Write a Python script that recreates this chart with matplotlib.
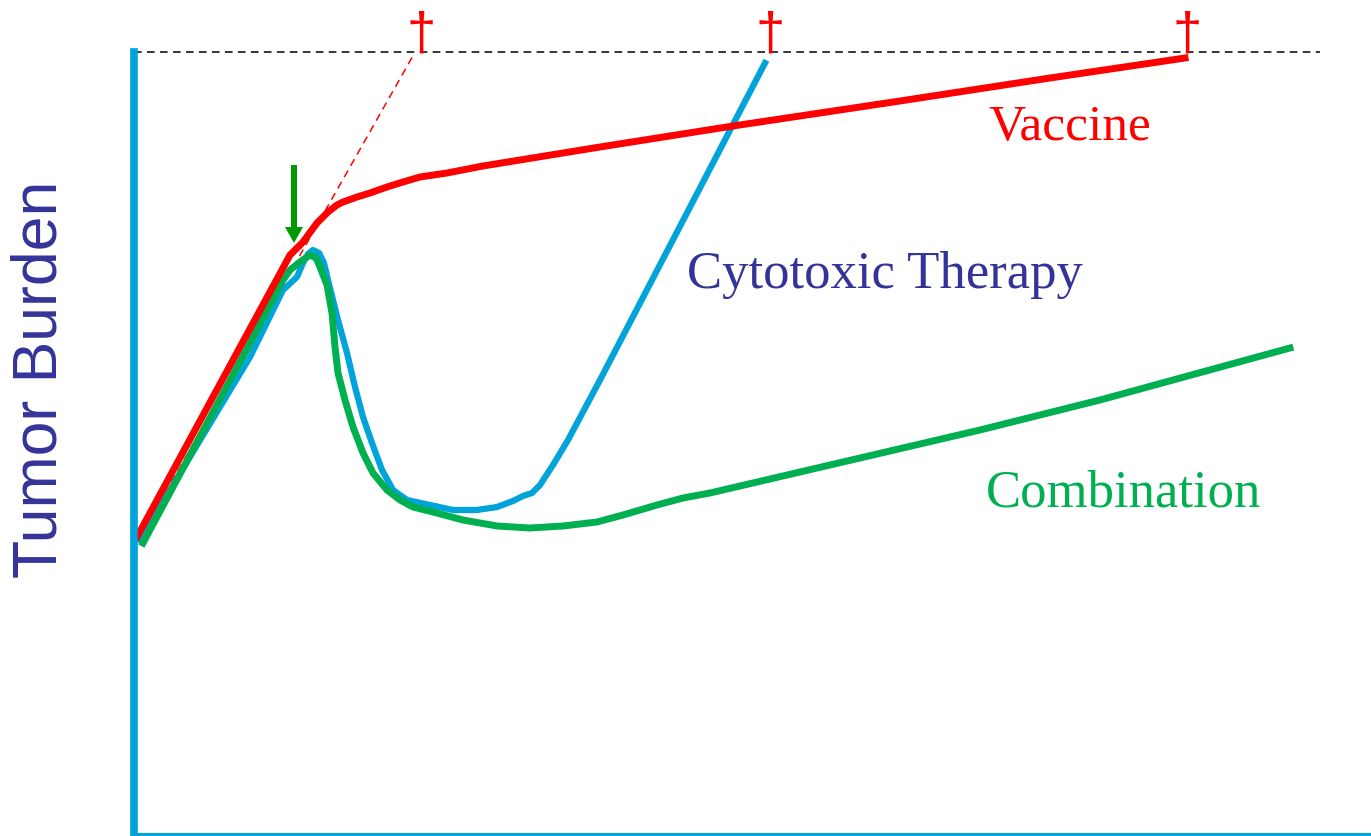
import matplotlib.pyplot as plt

# time axis (arbitrary units) and tumor burden readings
vac_t = [3, 156, 169, 183, 194, 203, 209, 223, 236, 253, 269, 286, 313, 349,
         466, 599, 766, 916, 1051]
vac_b = [297, 579, 592, 611, 622, 629, 632, 637, 641, 647, 652, 657, 661, 668,
         687, 708, 733, 756, 776]

cyto_t = [6, 116, 149, 163, 169, 174, 179, 185, 190, 194, 204, 213, 221, 229,
          238, 248, 259, 273, 296, 319, 343, 363, 379, 389, 398, 406, 419, 434,
          466, 631]
cyto_b = [294, 477, 544, 557, 571, 580, 584, 581, 571, 554, 514, 481, 447, 417,
          391, 364, 344, 334, 329, 324, 324, 327, 333, 338, 341, 349, 369, 394,
          454, 771]

comb_t = [9, 116, 149, 156, 166, 176, 182, 186, 193, 198, 201, 204, 211, 219,
          229, 239, 253, 266, 279, 299, 329, 363, 396, 429, 463, 489, 523, 549,
          576, 666, 846, 966, 1156]
comb_b = [291, 491, 554, 564, 572, 579, 576, 567, 549, 521, 487, 461, 434, 407,
          381, 361, 344, 334, 327, 322, 314, 308, 306, 308, 312, 319, 329, 336,
          341, 362, 404, 434, 486]

# untreated growth (dashed) and the lethal burden level
untreated_t = [-1, 280]
untreated_b = [284, 780]
death_level = 782
death_t = [287, 636, 1053]
treat_t = 160

red = '#FF0000'
blue = '#00A3DA'
green = '#00B050'
navy = '#333399'

fig = plt.figure(figsize=(13.71, 8.36), dpi=100)
ax = fig.add_axes([134/1371, 2/836, 1237/1371, 834/836])
ax.set_xlim(0, 1237)
ax.set_ylim(0, 834)

ax.plot([0, 1186], [death_level, death_level], color='black', lw=1.1,
        dashes=(5, 3.5))
ax.plot(untreated_t, untreated_b, color=red, lw=1.1, dashes=(5, 3.5))

ax.plot(cyto_t, cyto_b, color=blue, lw=4.5, solid_joinstyle='round')
ax.plot(comb_t, comb_b, color=green, lw=5, solid_joinstyle='round')
ax.plot(vac_t, vac_b, color=red, lw=5, solid_joinstyle='round')

for t in death_t:
    ax.text(t, 785, '\u2020', color=red, fontsize=38, family='Liberation Sans',
            ha='center', va='baseline', clip_on=False)

ax.arrow(treat_t, 669, 0, -78, width=6, head_width=18, head_length=16,
         length_includes_head=True, color='#009900', lw=0)

ax.text(936, 706, 'Vaccine', color=red, fontsize=37,
        family='Liberation Serif', ha='center', va='center')
ax.text(751, 559, 'Cytotoxic Therapy', color=navy, fontsize=38,
        family='Liberation Serif', ha='center', va='center')
ax.text(990, 341, 'Combination', color=green, fontsize=38,
        family='Liberation Serif', ha='center', va='center')

fig.text(40/1371, 1 - 379/836, 'Tumor Burden', color=navy, fontsize=45,
         family='Liberation Sans', rotation=90, ha='center', va='center')

for s in ['top', 'right']:
    ax.spines[s].set_visible(False)
ax.spines['left'].set_color(blue)
ax.spines['left'].set_linewidth(5.5)
ax.spines['left'].set_bounds(0, death_level)
ax.spines['bottom'].set_color(blue)
ax.spines['bottom'].set_linewidth(2.2)
ax.set_xticks([])
ax.set_yticks([])

fig.savefig('out.png', dpi=100)
